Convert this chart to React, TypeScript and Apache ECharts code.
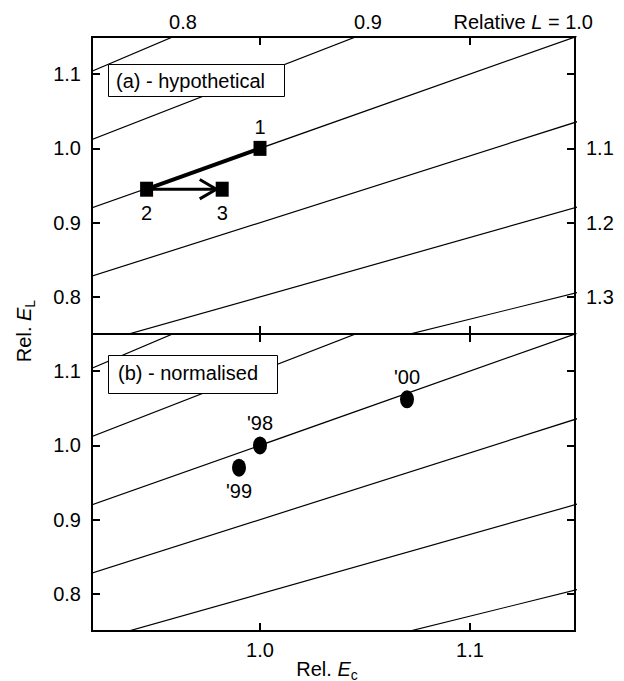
import React, { useEffect, useRef } from "react";
import * as echarts from "echarts";

// Axis ranges and ticks
const xMin = 0.92;
const xMax = 1.15;
const yMin = 0.75;
const yMax = 1.15;
const xTickValues = [1.0, 1.1];
const yTickValues = [0.8, 0.9, 1.0, 1.1];
const rightLabelValues = [1.0, 0.9, 0.8];
const rightLLabels = ["1.1", "1.2", "1.3"];
const topLLabels = ["0.8", "0.9", "1.0"];

// Iso-L lines, clipped by the plot area
const isoLineL = [0.8, 0.9, 1.0, 1.1, 1.2, 1.3];
const isoLineStart = [
  [0.9, 1.08],
  [0.9, 0.99],
  [0.9, 0.9],
  [0.9, 0.81],
  [0.9, 0.72],
  [0.9, 0.63],
];
const isoLineEnd = [
  [1.2, 1.44],
  [1.2, 1.32],
  [1.2, 1.2],
  [1.2, 1.08],
  [1.2, 0.96],
  [1.2, 0.84],
];

// Panel (a) - hypothetical
const hypoLabels = ["1", "2", "3"];
const hypoEc = [1.0, 0.946, 0.982];
const hypoEL = [1.0, 0.945, 0.945];
const hypoLabelPos = ["top", "bottom", "bottom"];
const arrowTip = [0.9792, 0.945];
const arrowArmUpper = [0.9713, 0.958];
const arrowArmLower = [0.9713, 0.932];

// Panel (b) - normalised
const yearLabels = ["'98", "'99", "'00"];
const normEc = [1.0, 0.99, 1.07];
const normEL = [1.0, 0.97, 1.062];
const yearLabelPos = ["top", "bottom", "top"];

const FONT = "'Liberation Sans', Arial, Helvetica, sans-serif";
const FS = 20;
const TICK_LEN = 8;

export default function App() {
  const ref = useRef<HTMLDivElement>(null);

  useEffect(() => {
    if (!ref.current) return;
    const chart = echarts.init(ref.current, undefined, { renderer: "svg" });

    const lineStyle = { color: "#000", width: 2 };
    const tickStyle = { color: "#000", width: 2 };
    const mkX = (gridIndex: number, position: string, labels: boolean) => ({
      type: "value",
      gridIndex,
      position,
      min: xMin,
      max: xMax,
      axisLine: { show: true, onZero: false, lineStyle },
      splitLine: { show: false },
      axisTick: {
        show: true,
        inside: true,
        length: TICK_LEN,
        lineStyle: tickStyle,
        customValues: xTickValues,
      },
      axisLabel: {
        show: labels,
        customValues: xTickValues,
        formatter: (v: number) => v.toFixed(1),
        color: "#000",
        fontSize: FS,
        fontFamily: FONT,
        margin: 9,
      },
    });
    const mkY = (
      gridIndex: number,
      position: string,
      labels: boolean,
      labelValues: number[],
      fmt: (v: number) => string
    ) => ({
      type: "value",
      gridIndex,
      position,
      min: yMin,
      max: yMax,
      axisLine: { show: true, onZero: false, lineStyle },
      splitLine: { show: false },
      axisTick: {
        show: true,
        inside: true,
        length: TICK_LEN,
        lineStyle: tickStyle,
        customValues: yTickValues,
      },
      axisLabel: {
        show: labels,
        customValues: labelValues,
        formatter: fmt,
        color: "#000",
        fontSize: FS,
        fontFamily: FONT,
        margin: 11,
      },
    });

    const fmt1 = (v: number) => v.toFixed(1);
    const fmtRight = (v: number) => {
      const i = rightLabelValues.findIndex((r) => Math.abs(r - v) < 1e-6);
      return i >= 0 ? rightLLabels[i] : "";
    };

    const isoSeries = (xi: number, yi: number) =>
      isoLineL.map((L, i) => ({
        type: "line",
        name: "L=" + L,
        xAxisIndex: xi,
        yAxisIndex: yi,
        data: [isoLineStart[i], isoLineEnd[i]],
        symbol: "none",
        clip: true,
        silent: true,
        z: 1,
        lineStyle: { color: "#000", width: 1.2 },
      }));

    const ellipse = "path://M10,0 A10,10 0 1 1 10,20 A10,10 0 1 1 10,0 Z";

    const sub = {
      fontSize: 14,
      fontFamily: FONT,
      color: "#000",
      lineHeight: 14,
      padding: [11, 0, 0, 0],
    };
    const norm = { fontSize: FS, fontFamily: FONT, color: "#000", lineHeight: 20 };
    const ital = { ...norm, fontStyle: "italic" };

    const option: any = {
      animation: false,
      backgroundColor: "#fff",
      textStyle: { fontFamily: FONT },
      grid: [
        {
          left: 92,
          top: 37,
          width: 483,
          height: 297,
          show: true,
          borderColor: "#000",
          borderWidth: 2,
          backgroundColor: "transparent",
        },
        {
          left: 92,
          top: 334,
          width: 483,
          height: 297,
          show: true,
          borderColor: "#000",
          borderWidth: 2,
          backgroundColor: "transparent",
        },
      ],
      xAxis: [
        mkX(0, "bottom", false),
        mkX(0, "top", false),
        mkX(1, "bottom", true),
        mkX(1, "top", false),
      ],
      yAxis: [
        mkY(0, "left", true, yTickValues, fmt1),
        mkY(0, "right", true, rightLabelValues, fmtRight),
        mkY(1, "left", true, yTickValues, fmt1),
        mkY(1, "right", false, yTickValues, fmt1),
      ],
      series: [
        ...isoSeries(0, 0),
        ...isoSeries(2, 2),
        {
          type: "line",
          xAxisIndex: 0,
          yAxisIndex: 0,
          data: [
            [hypoEc[0], hypoEL[0]],
            [hypoEc[1], hypoEL[1]],
          ],
          symbol: "none",
          z: 3,
          lineStyle: { color: "#000", width: 4 },
        },
        {
          type: "line",
          xAxisIndex: 0,
          yAxisIndex: 0,
          data: [[hypoEc[1], hypoEL[1]], arrowTip],
          symbol: "none",
          z: 3,
          lineStyle: { color: "#000", width: 3 },
        },
        {
          type: "line",
          xAxisIndex: 0,
          yAxisIndex: 0,
          data: [arrowArmUpper, arrowTip, arrowArmLower],
          symbol: "none",
          z: 3,
          lineStyle: { color: "#000", width: 3, join: "miter" },
        },
        {
          type: "scatter",
          xAxisIndex: 0,
          yAxisIndex: 0,
          symbol: "rect",
          symbolSize: [13, 15],
          z: 4,
          itemStyle: { color: "#000", opacity: 1 },
          data: hypoLabels.map((lab, i) => ({
            value: [hypoEc[i], hypoEL[i]],
            name: lab,
            label: {
              show: true,
              position: hypoLabelPos[i],
              distance: hypoLabelPos[i] === "top" ? 4 : 6,
              formatter: lab,
              color: "#000",
              fontSize: FS,
              fontFamily: FONT,
            },
          })),
        },
        {
          type: "scatter",
          xAxisIndex: 2,
          yAxisIndex: 2,
          symbol: ellipse,
          symbolSize: [14, 18],
          z: 4,
          itemStyle: { color: "#000", opacity: 1 },
          data: yearLabels.map((lab, i) => ({
            value: [normEc[i], normEL[i]],
            name: lab,
            label: {
              show: true,
              position: yearLabelPos[i],
              distance: yearLabelPos[i] === "top" ? 3 : 4,
              formatter: lab,
              color: "#000",
              fontSize: FS,
              fontFamily: FONT,
            },
          })),
        },
      ],
      graphic: [
        {
          type: "rect",
          z: 100,
          shape: { x: 108.5, y: 64.5, width: 176, height: 32 },
          style: { fill: "#fff", stroke: "#000", lineWidth: 1 },
        },
        {
          type: "text",
          x: 116,
          y: 81,
          z: 101,
          style: {
            text: "(a) - hypothetical",
            fill: "#000",
            font: `${FS}px ${FONT}`,
            verticalAlign: "middle",
            align: "left",
          },
        },
        {
          type: "rect",
          z: 100,
          shape: { x: 108.5, y: 355.5, width: 169, height: 38 },
          style: { fill: "#fff", stroke: "#000", lineWidth: 1 },
        },
        {
          type: "text",
          x: 118,
          y: 373,
          z: 101,
          style: {
            text: "(b) - normalised",
            fill: "#000",
            font: `${FS}px ${FONT}`,
            verticalAlign: "middle",
            align: "left",
          },
        },
        {
          type: "text",
          x: 183,
          y: 22,
          z: 101,
          style: {
            text: topLLabels[0],
            fill: "#000",
            font: `${FS}px ${FONT}`,
            align: "center",
            verticalAlign: "middle",
          },
        },
        {
          type: "text",
          x: 368,
          y: 22,
          z: 101,
          style: {
            text: topLLabels[1],
            fill: "#000",
            font: `${FS}px ${FONT}`,
            align: "center",
            verticalAlign: "middle",
          },
        },
        {
          type: "text",
          x: 593,
          y: 22,
          z: 101,
          style: {
            text: "{n|Relative }{i|L}{n| = " + topLLabels[2] + "}",
            align: "right",
            verticalAlign: "middle",
            rich: { n: norm, i: ital },
          },
        },
        {
          type: "text",
          x: 327,
          y: 669,
          z: 101,
          style: {
            text: "{n|Rel. }{i|E}{s|c}",
            align: "center",
            verticalAlign: "middle",
            rich: { n: norm, i: ital, s: sub },
          },
        },
        {
          type: "text",
          x: 24,
          y: 331,
          z: 101,
          rotation: Math.PI / 2,
          style: {
            text: "{n|Rel. }{i|E}{s|L}",
            align: "center",
            verticalAlign: "middle",
            rich: { n: norm, i: ital, s: sub },
          },
        },
      ],
    };

    chart.setOption(option);
    return () => chart.dispose();
  }, []);

  return (
    <div
      ref={ref}
      style={{ position: "fixed", left: 0, top: 0, width: 624, height: 681, background: "#fff" }}
    />
  );
}
